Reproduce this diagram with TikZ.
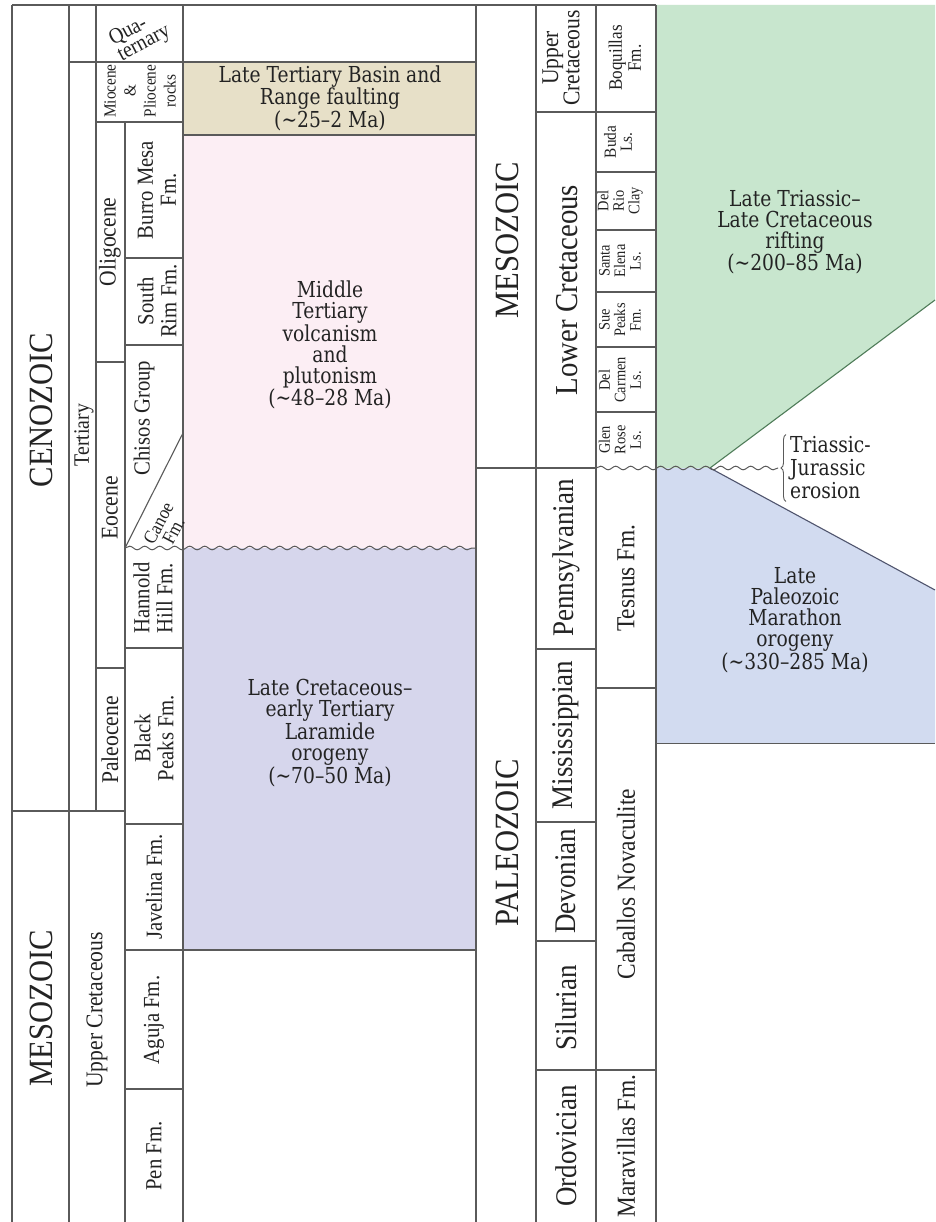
\documentclass[tikz,border=0pt]{standalone}
\usepackage{fontspec}
\setmainfont{Liberation Serif}[FakeStretch=0.9]
\newfontfamily\evfont{DejaVu Serif}[FakeStretch=0.85]
\usetikzlibrary{decorations.pathmorphing,decorations.pathreplacing}
\newcommand\myfs[2]{\fontsize{#1}{#2}\selectfont}
\definecolor{linec}{RGB}{90,90,90}
\definecolor{tanc}{RGB}{231,224,200}
\definecolor{pinkc}{RGB}{252,238,244}
\definecolor{lavc}{RGB}{214,214,236}
\definecolor{greenc}{RGB}{200,230,206}
\definecolor{bluec}{RGB}{210,219,240}
\definecolor{txtc}{RGB}{35,35,35}
\definecolor{gedge}{RGB}{80,125,90}
\definecolor{bedge}{RGB}{80,85,110}
\tikzset{
  grid/.style={draw=linec, line width=1.1pt},
  wavy/.style={draw=linec, line width=1pt, decorate, decoration={snake, amplitude=1.8pt, segment length=15pt}},
  lab/.style={rotate=90, inner sep=0pt, align=center, text=txtc},
  ev/.style={inner sep=0pt, align=center, text=txtc, font=\evfont\myfs{22}{21}},
  bracestyle/.style={draw=linec, line width=0.9pt, decorate, decoration={brace, amplitude=5pt}}
}
\begin{document}
\begin{tikzpicture}[x=1pt,y=-1pt]
\useasboundingbox (0,0) rectangle (935,1222);
\fill[white] (0,0) rectangle (935,1222);
% fills
\fill[tanc] (183,62) rectangle (476,135);
\fill[pinkc] (183,135) rectangle (476,548);
\fill[lavc] (183,548) rectangle (476,950);
\fill[greenc] (656,5) -- (935,5) -- (935,300) -- (710,468) -- (656,468) -- cycle;
\fill[bluec] (656,468) -- (710,468) -- (935,590) -- (935,743) -- (656,743) -- cycle;
\draw[gedge, line width=1.1pt] (710,468) -- (935,300);
\draw[bedge, line width=1.1pt] (710,468) -- (935,590);
\draw[linec, line width=0.8pt] (656,743) -- (935,743);
% left table grid
\draw[grid] (12,5) -- (12,1222);
\draw[grid] (69,5) -- (69,1222);
\draw[grid] (96,5) -- (96,811);
\draw[grid] (125,122) -- (125,1222);
\draw[grid] (183,5) -- (183,1222);
\draw[grid] (476,5) -- (476,1222);
\draw[grid] (12,5) -- (656,5);
\draw[grid] (69,62) -- (476,62);
\draw[grid] (96,122) -- (183,122);
\draw[grid] (183,135) -- (476,135);
\draw[grid] (125,258) -- (183,258);
\draw[grid] (125,345) -- (183,345);
\draw[grid] (96,362) -- (125,362);
\draw[wavy] (125,548) -- (476,548);
\draw[grid] (125,548) -- (183,433);
\draw[grid] (125,648) -- (183,648);
\draw[grid] (96,668) -- (125,668);
\draw[grid] (12,811) -- (125,811);
\draw[grid] (125,824) -- (183,824);
\draw[grid] (125,950) -- (476,950);
\draw[grid] (125,1089) -- (183,1089);
% right table grid
\draw[grid] (536,5) -- (536,1222);
\draw[grid] (596,5) -- (596,1222);
\draw[grid] (656,5) -- (656,1222);
\draw[grid] (536,112) -- (656,112);
\foreach \yy in {172,230,292,347,412} \draw[grid] (596,\yy) -- (656,\yy);
\draw[grid] (476,468) -- (596,468);
\draw[wavy] (596,468) -- (778,468);
\draw[grid] (536,649) -- (596,649);
\draw[grid] (596,688) -- (656,688);
\draw[grid] (536,822) -- (596,822);
\draw[grid] (536,941) -- (596,941);
\draw[grid] (536,1070) -- (656,1070);
% left labels
\node[lab, font=\myfs{34}{34}] (ceno) at (41,410) {CENOZOIC};
\node[lab, font=\myfs{34}{34}] (meso1) at (41,1008) {MESOZOIC};
\node[lab, font=\myfs{22}{22}] (tert) at (84,435) {Tertiary};
\node[lab, font=\myfs{24}{24}] (ucret1) at (97,1010) {Upper Cretaceous};
\node[inner sep=0pt, rotate=28, align=left, text=txtc, font=\myfs{22}{18}] (quat) at (140,36) {Qua-\\ternary};
\node[lab, font=\myfs{17}{20}] (mio) at (140,91) {Miocene\\\&\\Pliocene\\rocks};
\node[lab, font=\myfs{24}{24}] (olig) at (110,242) {Oligocene};
\node[lab, font=\myfs{24}{24}] (eoc) at (110,508) {Eocene};
\node[lab, font=\myfs{24}{24}] (paleoc) at (110,740) {Paleocene};
\node[lab, font=\myfs{23}{23}] (burro) at (157,190) {Burro Mesa\\Fm.};
\node[lab, font=\myfs{23}{23}] (south) at (157,301) {South\\Rim Fm.};
\node[lab, font=\myfs{23}{23}] (chisos) at (144,418) {Chisos Group};
\node[inner sep=0pt, rotate=62, align=center, text=txtc, font=\myfs{19}{17}] (canoe) at (166,527) {Canoe\\Fm.};
\node[lab, font=\myfs{23}{23}] (hannold) at (153,598) {Hannold\\Hill Fm.};
\node[lab, font=\myfs{23}{23}] (black) at (154,738) {Black\\Peaks Fm.};
\node[lab, font=\myfs{23}{23}] (jav) at (154,887) {Javelina Fm.};
\node[lab, font=\myfs{23}{23}] (aguja) at (154,1020) {Aguja Fm.};
\node[lab, font=\myfs{23}{23}] (pen) at (154,1156) {Pen Fm.};
% event texts
\node[ev, font=\evfont\myfs{22}{18}] (basin) at (330,98) {Late Tertiary Basin and\\Range faulting\\(\textasciitilde25–2 Ma)};
\node[ev] (volc) at (330,345) {Middle\\Tertiary\\volcanism\\and\\plutonism\\(\textasciitilde48–28 Ma)};
\node[ev] (lara) at (330,733) {Late Cretaceous–\\early Tertiary\\Laramide\\orogeny\\(\textasciitilde70–50 Ma)};
\node[ev] (rift) at (795,232) {Late Triassic–\\Late Cretaceous\\rifting\\(\textasciitilde200–85 Ma)};
\node[ev] (mara) at (795,620) {Late\\Paleozoic\\Marathon\\orogeny\\(\textasciitilde330–285 Ma)};
\node[ev, align=left, anchor=west, font=\evfont\myfs{22}{23}] (eros) at (790,468) {Triassic-\\Jurassic\\erosion};
\draw[bracestyle] ([xshift=-4pt,yshift=-2pt]eros.south west) -- ([xshift=-4pt,yshift=2pt]eros.north west);
% right labels
\node[lab, font=\myfs{34}{34}] (meso2) at (507,240) {MESOZOIC};
\node[lab, font=\myfs{34}{34}] (paleoz) at (507,843) {PALEOZOIC};
\node[lab, font=\myfs{24}{21}] (ucret2) at (561,58) {Upper\\Cretaceous};
\node[lab, font=\myfs{32}{32}] (lcret) at (567,290) {Lower Cretaceous};
\node[lab, font=\myfs{30}{30}] (penn) at (566,558) {Pennsylvanian};
\node[lab, font=\myfs{30}{30}] (miss) at (566,735) {Mississippian};
\node[lab, font=\myfs{30}{30}] (dev) at (566,881) {Devonian};
\node[lab, font=\myfs{30}{30}] (sil) at (566,1008) {Silurian};
\node[lab, font=\myfs{30}{30}] (ord) at (566,1146) {Ordovician};
\node[lab, font=\myfs{19}{19}] (boq) at (625,58) {Boquillas\\Fm.};
\node[lab, font=\myfs{17}{16}] (buda) at (618,142) {Buda\\Ls.};
\node[lab, font=\myfs{16}{15.5}] (delrio) at (620,201) {Del\\Rio\\Clay};
\node[lab, font=\myfs{16}{15.5}] (santa) at (620,261) {Santa\\Elena\\Ls.};
\node[lab, font=\myfs{16}{15.5}] (sue) at (620,320) {Sue\\Peaks\\Fm.};
\node[lab, font=\myfs{16}{15.5}] (delc) at (620,380) {Del\\Carmen\\Ls.};
\node[lab, font=\myfs{16}{15.5}] (glen) at (620,440) {Glen\\Rose\\Ls.};
\node[lab, font=\myfs{26}{26}] (tesnus) at (626,578) {Tesnus Fm.};
\node[lab, font=\myfs{26}{26}] (cab) at (626,884) {Caballos Novaculite};
\node[lab, font=\myfs{26}{26}] (mar) at (626,1146) {Maravillas Fm.};
\end{tikzpicture}
\end{document}
